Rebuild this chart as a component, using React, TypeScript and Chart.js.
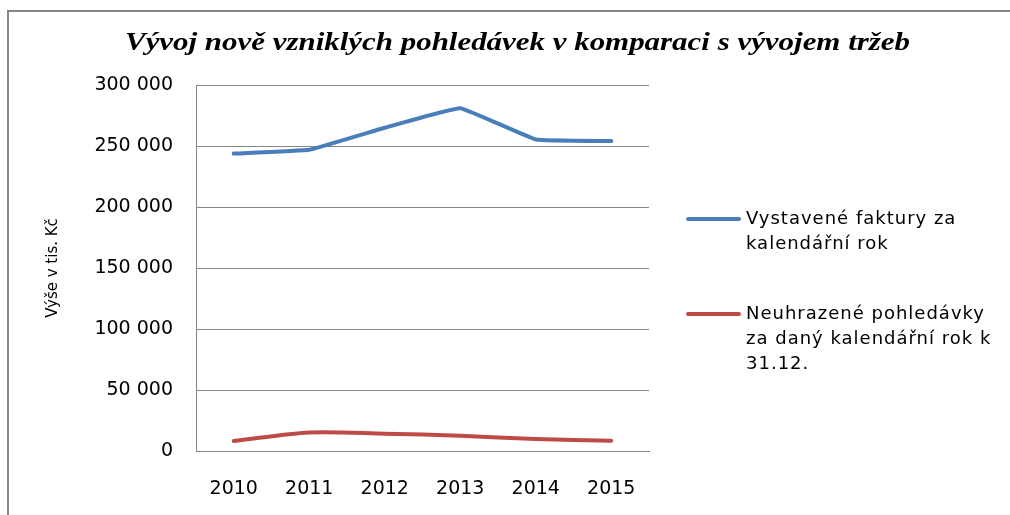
import React, { useEffect, useRef } from "react";
import { Chart, registerables } from "chart.js";

Chart.register(...registerables);

const TITLE = "Vývoj nově vzniklých pohledávek v komparaci s vývojem tržeb";
const Y_TITLE = "Výše v tis. Kč";
const YEARS = ["2010", "2011", "2012", "2013", "2014", "2015"];
const INVOICES = [243800, 246900, 265000, 281000, 255300, 254000];
const UNPAID = [8200, 15200, 14200, 12500, 9800, 8400];
const LEGEND_INVOICES = ["Vystavené faktury za", "kalendářní rok"];
const LEGEND_UNPAID = ["Neuhrazené pohledávky", "za daný kalendářní rok k", "31.12."];
const Y_MIN = 0;
const Y_MAX = 300000;
const Y_STEP = 50000;

const BLUE = "#4A7EBB";
const RED = "#BE4B48";
const GRID = "#868686";
const FONT = "'DejaVu Sans', Verdana, sans-serif";

const fmt = (v: number) => {
  const s = Math.round(v).toString();
  return s.replace(/\B(?=(\d{3})+(?!\d))/g, " ");
};

const decorPlugin = {
  id: "decor",
  beforeDraw(chart: any) {
    const ctx = chart.ctx;
    ctx.save();
    ctx.fillStyle = "#ffffff";
    ctx.fillRect(0, 0, chart.width, chart.height);
    ctx.fillStyle = GRID;
    ctx.fillRect(7, 10, chart.width - 7, 2);
    ctx.fillRect(7, 10, 2, chart.height - 10);
    ctx.restore();
  },
  afterDraw(chart: any) {
    const ctx = chart.ctx;
    ctx.save();
    // Title
    ctx.fillStyle = "#000000";
    ctx.font = "bold italic 26px 'Liberation Serif', 'Times New Roman', serif";
    ctx.textBaseline = "alphabetic";
    ctx.textAlign = "left";
    const w = ctx.measureText(TITLE).width;
    const targetW = 785;
    ctx.translate(125, 50);
    ctx.scale(targetW / w, 1);
    ctx.fillText(TITLE, 0, 0);
    ctx.restore();

    // Y axis title
    ctx.save();
    ctx.fillStyle = "#000000";
    ctx.font = "15px " + FONT;
    ctx.textAlign = "center";
    ctx.textBaseline = "middle";
    ctx.translate(53, 268);
    ctx.rotate(-Math.PI / 2);
    ctx.fillText(Y_TITLE, 0, 0);
    ctx.restore();

    // Legend
    const entries = [
      { lines: LEGEND_INVOICES, color: chart.data.datasets[0].borderColor, y: 219 },
      { lines: LEGEND_UNPAID, color: chart.data.datasets[1].borderColor, y: 314 },
    ];
    ctx.save();
    ctx.font = "18px " + FONT;
    (ctx as any).letterSpacing = "1px";
    ctx.textBaseline = "middle";
    ctx.textAlign = "left";
    for (const e of entries) {
      ctx.strokeStyle = e.color;
      ctx.lineWidth = 4;
      ctx.lineCap = "round";
      ctx.beginPath();
      ctx.moveTo(688, e.y);
      ctx.lineTo(739, e.y);
      ctx.stroke();
      ctx.fillStyle = "#000000";
      e.lines.forEach((t: string, i: number) => {
        ctx.fillText(t, 746, e.y + i * 25);
      });
    }
    ctx.restore();
  },
};

export default function App() {
  const ref = useRef<HTMLCanvasElement | null>(null);

  useEffect(() => {
    if (!ref.current) return;
    const chart = new Chart(ref.current, {
      type: "line",
      data: {
        labels: YEARS,
        datasets: [
          {
            label: LEGEND_INVOICES.join(" "),
            data: INVOICES,
            borderColor: BLUE,
            backgroundColor: BLUE,
            borderWidth: 4,
            pointRadius: 0,
            tension: 0.08,
            borderCapStyle: "round",
          },
          {
            label: LEGEND_UNPAID.join(" "),
            data: UNPAID,
            borderColor: RED,
            backgroundColor: RED,
            borderWidth: 4,
            pointRadius: 0,
            tension: 0.3,
            borderCapStyle: "round",
          },
        ],
      },
      options: {
        responsive: false,
        animation: false,
        layout: { padding: { left: 0, top: 85, right: 361, bottom: 0 } },
        plugins: {
          legend: { display: false },
          title: { display: false },
          tooltip: { enabled: false },
        },
        scales: {
          x: {
            offset: true,
            grid: { display: false, drawTicks: false },
            border: { display: true, color: GRID, width: 1 },
            ticks: { color: "#000000", font: { family: FONT, size: 19 }, padding: 27 },
            afterFit: (s: any) => {
              s.height = 64;
            },
          },
          y: {
            min: Y_MIN,
            max: Y_MAX,
            grid: { color: GRID, lineWidth: 1, drawTicks: false },
            border: { display: true, color: GRID, width: 1 },
            ticks: {
              stepSize: Y_STEP,
              color: "#000000",
              font: { family: FONT, size: 19 },
              padding: 23,
              callback: (v: any) => fmt(Number(v)),
            },
            afterFit: (s: any) => {
              s.width = 196;
            },
          },
        },
      },
      plugins: [decorPlugin],
    });
    return () => chart.destroy();
  }, []);

  return (
    <div style={{ position: "fixed", left: 0, top: 0, width: 1010, height: 515, background: "#fff" }}>
      <canvas ref={ref} width={1010} height={515} style={{ display: "block" }} />
    </div>
  );
}
